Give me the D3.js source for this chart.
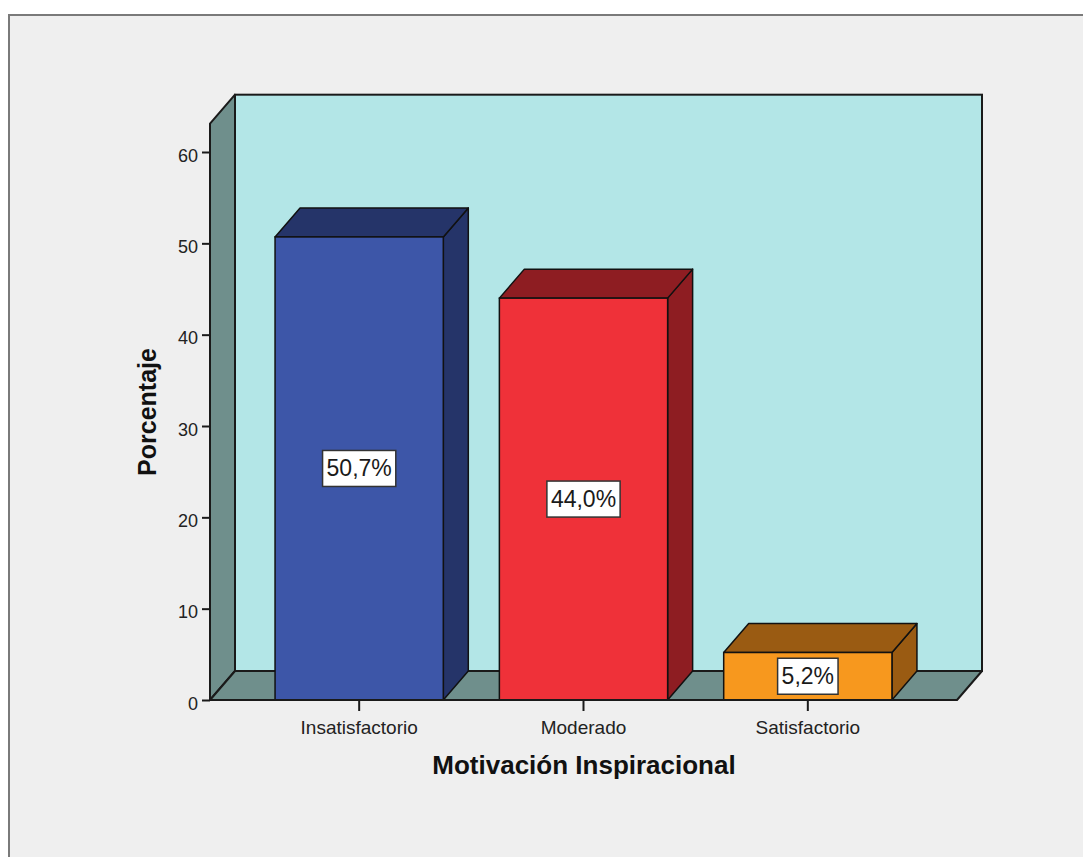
<!DOCTYPE html>
<html>
<head>
<meta charset="utf-8">
<script src="https://cdn.jsdelivr.net/npm/d3@7"></script>
<style>
  html, body { margin: 0; padding: 0; background: #ffffff; }
  svg { display: block; }
</style>
</head>
<body>
<svg id="chart" width="1083" height="857"></svg>
<script>
// Data
const categories = ["Insatisfactorio", "Moderado", "Satisfactorio"];
const percentages = [50.7, 44.0, 5.2];
const valueLabels = ["50,7%", "44,0%", "5,2%"];
const yTicks = [0, 10, 20, 30, 40, 50, 60];
const xTitle = "Motivación Inspiracional";
const yTitle = "Porcentaje";

const frontColors = ["#3d56a8", "#ef3139", "#f7981e"];
const darkColors  = ["#253469", "#8e1d22", "#9a5b12"];

const svg = d3.select("#chart");

// Layout of the 3D box
const left = 210, right = 957, bottom = 700;
const depthX = 25, depthY = 29;

const x = d3.scaleBand()
  .domain(categories)
  .range([left, right])
  .paddingInner(0.25)
  .paddingOuter(0.29);

const y = d3.scaleLinear().domain([0, 60]).range([bottom, 152]);
const wallTop = y(63.1);

// Outer panel
svg.append("rect")
  .attr("x", 9).attr("y", 15).attr("width", 1083).attr("height", 857)
  .attr("fill", "#efefef").attr("stroke", "#7a7a7a").attr("stroke-width", 2);

const line = d3.line();

// Back wall
svg.append("rect")
  .attr("x", left + depthX).attr("y", wallTop - depthY)
  .attr("width", right - left).attr("height", bottom - wallTop)
  .attr("fill", "#b3e6e7").attr("stroke", "#1a1a1a").attr("stroke-width", 2);

// Left wall
svg.append("path")
  .attr("d", line([[left, wallTop], [left + depthX, wallTop - depthY],
                   [left + depthX, bottom - depthY], [left, bottom]]) + "Z")
  .attr("fill", "#6f8f8c").attr("stroke", "#1a1a1a").attr("stroke-width", 2)
  .attr("stroke-linejoin", "round");

// Floor
svg.append("path")
  .attr("d", line([[left, bottom], [left + depthX, bottom - depthY],
                   [right + depthX, bottom - depthY], [right, bottom]]) + "Z")
  .attr("fill", "#6f8f8c").attr("stroke", "#1a1a1a").attr("stroke-width", 2)
  .attr("stroke-linejoin", "round");

// Bars
const bars = svg.append("g").selectAll("g").data(categories).join("g");

bars.each(function(c, i) {
  const g = d3.select(this);
  const x0 = x(c), x1 = x(c) + x.bandwidth();
  const yt = y(percentages[i]);
  // side face
  g.append("path")
    .attr("d", line([[x1, yt], [x1 + depthX, yt - depthY],
                     [x1 + depthX, bottom - depthY], [x1, bottom]]) + "Z")
    .attr("fill", darkColors[i]).attr("stroke", "#111").attr("stroke-width", 1.5)
    .attr("stroke-linejoin", "round");
  // top face
  g.append("path")
    .attr("d", line([[x0, yt], [x0 + depthX, yt - depthY],
                     [x1 + depthX, yt - depthY], [x1, yt]]) + "Z")
    .attr("fill", darkColors[i]).attr("stroke", "#111").attr("stroke-width", 1.5)
    .attr("stroke-linejoin", "round");
  // front face
  g.append("rect")
    .attr("x", x0).attr("y", yt).attr("width", x1 - x0).attr("height", bottom - yt)
    .attr("fill", frontColors[i]).attr("stroke", "#111").attr("stroke-width", 1.5);

  // value label
  const cx = (x0 + x1) / 2, cy = (yt + bottom) / 2;
  const lab = g.append("g");
  const box = lab.append("rect");
  const t = lab.append("text")
    .attr("x", cx).attr("y", cy + 8)
    .attr("text-anchor", "middle")
    .attr("font-family", "Liberation Sans, Arial, sans-serif")
    .attr("font-size", 23)
    .attr("fill", "#1a1a1a")
    .text(valueLabels[i]);
  const w = t.node().getComputedTextLength() + 8;
  box.attr("x", cx - w / 2).attr("y", cy - 18).attr("width", w).attr("height", 36)
    .attr("fill", "#ffffff").attr("stroke", "#333").attr("stroke-width", 1.5);
});

// Front floor edge
svg.append("line")
  .attr("x1", left).attr("x2", right).attr("y1", bottom).attr("y2", bottom)
  .attr("stroke", "#1a1a1a").attr("stroke-width", 2);

// Y axis
const yAxis = d3.axisLeft(y).tickValues(yTicks).tickSize(8).tickPadding(4)
  .tickFormat(d3.format("d"));
svg.append("g")
  .attr("transform", `translate(${left},0)`)
  .call(yAxis)
  .call(g => g.select(".domain").remove())
  .call(g => g.selectAll(".tick line").attr("stroke", "#1a1a1a").attr("stroke-width", 2))
  .call(g => g.selectAll(".tick text")
    .attr("font-family", "Liberation Sans, Arial, sans-serif")
    .attr("font-size", 18).attr("fill", "#222").attr("dy", "0.5em"));

// X axis
const xAxis = d3.axisBottom(x).tickSize(10).tickPadding(10);
svg.append("g")
  .attr("transform", `translate(0,${bottom + 1})`)
  .call(xAxis)
  .call(g => g.select(".domain").remove())
  .call(g => g.selectAll(".tick line").attr("stroke", "#1a1a1a").attr("stroke-width", 2))
  .call(g => g.selectAll(".tick text")
    .attr("font-family", "Liberation Sans, Arial, sans-serif")
    .attr("font-size", 19).attr("fill", "#222"));

// Axis titles
svg.append("text")
  .attr("x", 584).attr("y", 774)
  .attr("text-anchor", "middle")
  .attr("font-family", "Liberation Sans, Arial, sans-serif")
  .attr("font-weight", "bold").attr("font-size", 26).attr("fill", "#111")
  .text(xTitle);

svg.append("text")
  .attr("transform", "translate(156,412) rotate(-90)")
  .attr("text-anchor", "middle")
  .attr("font-family", "Liberation Sans, Arial, sans-serif")
  .attr("font-weight", "bold").attr("font-size", 25).attr("fill", "#111")
  .text(yTitle);
</script>
</body>
</html>
